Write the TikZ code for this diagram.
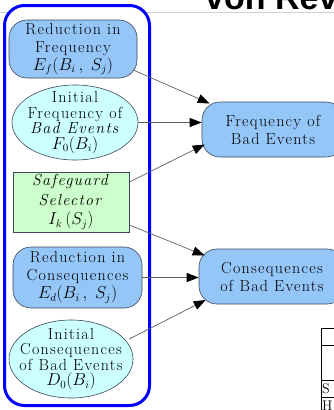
\documentclass[tikz,border=0pt]{standalone}
\usepackage{fontspec}
\setmainfont{Latin Modern Roman}
\newfontfamily\titlefont{Liberation Sans}
\usetikzlibrary{shapes.geometric,arrows.meta,calc}
\definecolor{boxblue}{RGB}{148,198,248}
\definecolor{cyanfill}{RGB}{204,255,255}
\definecolor{greenfill}{RGB}{204,255,204}
\definecolor{bordc}{RGB}{60,70,90}
\definecolor{linec}{RGB}{95,95,95}
\newfontfamily\spacedfont{Latin Modern Roman}[LetterSpace=8]
\tikzset{
  lbl/.style={font=\spacedfont\fontsize{16}{18}\selectfont, align=center, inner sep=0pt},
  ltight/.style={font=\spacedfont\fontsize{16}{15.5}\selectfont, align=center, inner sep=0pt},
  rbox/.style={lbl, draw=bordc, line width=0.6pt, rounded corners=18pt, fill=boxblue},
  ebox/.style={ellipse, draw=bordc, fill=cyanfill, line width=0.6pt, inner sep=0pt},
  gbox/.style={lbl, rectangle, draw=bordc, fill=greenfill, line width=0.6pt},
  link/.style={draw=linec, line width=0.7pt, -{Triangle[length=12pt,width=9pt,color=black]}},
  tabline/.style={draw=black, line width=0.6pt}
}
\begin{document}
\begin{tikzpicture}[x=1pt,y=-1pt]
  \useasboundingbox (0,0) rectangle (334,410);
  \clip (0,0) rectangle (334,410);

  % heading and rule
  \node[anchor=base west, inner sep=0pt, font=\titlefont\bfseries\fontsize{34}{34}\selectfont] (title) at (205,9.5) {von Rev};
  \draw[line width=1.5pt, black!18] (0,12.5) -- (334,12.5);

  % blue frame around the inputs
  \draw[blue, line width=3pt, rounded corners=20pt, fill=white] (4.5,5.5) rectangle (149.5,405.5);

  % input nodes
  \node[rbox, minimum width=128, minimum height=58] (redf) at (73,49)
    {Reduction in\\Frequency\\$E_f(B_i\,,\;S_j)$};
  \node[ebox, minimum width=126, minimum height=75] (inf) at (75,122.5) {};
  \node[ltight] (inft) at (inf) {Initial\\Frequency of\\\textit{Bad Events}\\$F_0(B_i)$};
  \node[gbox, minimum width=116, minimum height=60, font=\spacedfont\fontsize{16}{19.5}\selectfont] (sel) at (71,202)
    {\textit{Safeguard}\\\textit{Selector}\\$I_k\,(S_j)$};
  \node[rbox, minimum width=129, minimum height=61] (redc) at (77.5,277.5)
    {Reduction in\\Consequences\\$E_d(B_i\,,\;S_j)$};
  \node[ebox, minimum width=124, minimum height=78] (cie) at (71,359) {};
  \node[ltight] (ciet) at (cie) {Initial\\Consequences\\of Bad Events\\$D_0(B_i)$};

  % output nodes
  \node[rbox, minimum width=142, minimum height=55] (fre) at (273,129.5) {Frequency of\\Bad Events};
  \node[rbox, minimum width=146, minimum height=55] (con) at (272,276.5) {Consequences\\of Bad Events};

  % connectors
  \draw[link] ([shift={(-4,21)}]redf.east) -- ([shift={(8,-26)}]fre.west);
  \draw[link] (inf.east) -- (inf.east -| fre.west);
  \draw[link] ([shift={(0,-20)}]sel.east) -- ([shift={(3,15)}]fre.west);
  \draw[link] ([shift={(0,23)}]sel.east) -- ([shift={(6,-21)}]con.west);
  \draw[link] (redc.east) -- (redc.east -| con.west);
  \draw[link] ([shift={(-4,-20)}]cie.east) -- ([shift={(7,23.5)}]con.west);

  % table corner
  \draw[tabline] (321,328) -- (321,410);
  \draw[tabline] (321,328) -- (334,328);
  \draw[tabline] (321,345) -- (334,345);
  \draw[tabline] (321,380) -- (334,380);
  \draw[tabline] (321,397) -- (334,397);
  \node[anchor=base west, inner sep=0pt, font=\fontsize{14}{14}\selectfont] (ts) at (322,393) {S};
  \node[anchor=base west, inner sep=0pt, font=\fontsize{14}{14}\selectfont] (th) at (322,410) {H};
\end{tikzpicture}
\end{document}
